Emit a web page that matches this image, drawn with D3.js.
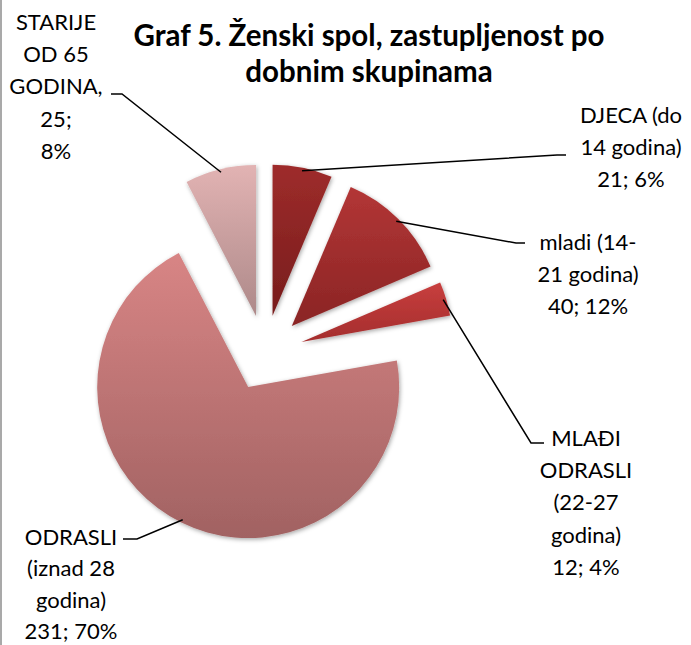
<!DOCTYPE html>
<html>
<head>
<meta charset="utf-8">
<script src="https://cdn.jsdelivr.net/npm/d3@7/dist/d3.min.js"></script>
<style>
  html, body { margin: 0; padding: 0; background: #fff; }
  svg { display: block; }
</style>
</head>
<body>
<svg id="chart" width="691" height="645"></svg>
<script>
// ---- data ----
const categories = ["DJECA (do 14 godina)", "mladi (14-21 godina)", "MLAĐI ODRASLI (22-27 godina)", "ODRASLI (iznad 28 godina)", "STARIJE OD 65 GODINA,"];
const values = [21, 40, 12, 231, 25];
const percents = ["6%", "12%", "4%", "70%", "8%"];
const labelLines = [
  ["DJECA (do", "14 godina)", "21; 6%"],
  ["mladi (14-", "21 godina)", "40; 12%"],
  ["MLAĐI", "ODRASLI", "(22-27", "godina)", "12; 4%"],
  ["ODRASLI", "(iznad 28", "godina)", "231; 70%"],
  ["STARIJE", "OD 65", "GODINA,", "25;", "8%"]
];
const titleLines = ["Graf 5. Ženski spol, zastupljenost po", "dobnim skupinama"];

// ---- styles / layout ----
const colorsTop = ["#9e2c2b", "#b33636", "#c83f3e", "#d88585", "#e2b3b3"];
const colorsBottom = ["#771c1c", "#8a2424", "#a42d2d", "#a16262", "#ad8989"];
// label layout: center x, first baseline y, line spacing, elbow point, horizontal end
const labelLayout = [
  {x: 631, y: 123, lh: 32.2, elbow: [557, 155], hend: [566, 155]},
  {x: 588, y: 250, lh: 32.2, elbow: [516, 243], hend: [525, 243]},
  {x: 586, y: 446, lh: 32.2, elbow: [531, 443], hend: [544, 443]},
  {x: 71,  y: 545, lh: 31.4, elbow: [137, 539], hend: [123, 539]},
  {x: 56,  y: 30,  lh: 32.2, elbow: [122, 94],  hend: [111, 94]}
];

const W = 691, H = 645;
const cx = 265, cy = 353, R = 151, explode = 38;

const svg = d3.select("#chart");
const defs = svg.append("defs");

const shadow = defs.append("filter").attr("id", "shadow")
  .attr("x", "-20%").attr("y", "-20%").attr("width", "140%").attr("height", "140%");
shadow.append("feDropShadow").attr("dx", 1).attr("dy", 1.5)
  .attr("stdDeviation", 2).attr("flood-color", "#000").attr("flood-opacity", 0.35);

values.forEach((v, i) => {
  const g = defs.append("linearGradient").attr("id", "grad" + i)
    .attr("x1", 0).attr("y1", 0).attr("x2", 0).attr("y2", 1);
  g.append("stop").attr("offset", "0%").attr("stop-color", colorsTop[i]);
  g.append("stop").attr("offset", "100%").attr("stop-color", colorsBottom[i]);
});

// left border line
svg.append("line").attr("x1", 1).attr("x2", 1).attr("y1", 0).attr("y2", H)
  .attr("stroke", "#8c8c8c").attr("stroke-width", 1.5);

const pie = d3.pie().sort(null).value(d => d).startAngle(0).endAngle(2 * Math.PI);
const arcs = pie(values);
const arc = d3.arc().innerRadius(0).outerRadius(R);

const slices = svg.append("g").attr("transform", `translate(${cx},${cy})`);
arcs.forEach((a, i) => {
  const mid = (a.startAngle + a.endAngle) / 2;
  const dx = explode * Math.sin(mid), dy = -explode * Math.cos(mid);
  slices.append("path")
    .attr("d", arc(a))
    .attr("transform", `translate(${dx},${dy})`)
    .attr("fill", `url(#grad${i})`)
    .attr("filter", "url(#shadow)");
});

// leader lines
arcs.forEach((a, i) => {
  const mid = (a.startAngle + a.endAngle) / 2;
  const ox = cx + explode * Math.sin(mid), oy = cy - explode * Math.cos(mid);
  const sx = ox + (R - 3) * Math.sin(mid), sy = oy - (R - 3) * Math.cos(mid);
  const L = labelLayout[i];
  svg.append("path")
    .attr("d", d3.line()([[sx, sy], L.elbow, L.hend]))
    .attr("fill", "none").attr("stroke", "#000").attr("stroke-width", 1.5);
});

// labels
labelLines.forEach((lines, i) => {
  const L = labelLayout[i];
  const t = svg.append("text")
    .attr("text-anchor", "middle")
    .attr("font-family", "Lato, 'Open Sans', sans-serif")
    .attr("font-size", 22)
    .attr("fill", "#000");
  lines.forEach((s, j) => {
    t.append("tspan").attr("x", L.x).attr("y", L.y + j * L.lh).text(s);
  });
});

// title
const tt = svg.append("text").attr("text-anchor", "middle")
  .attr("font-family", "Lato, 'Open Sans', sans-serif")
  .attr("font-weight", "bold").attr("font-size", 29.5).attr("fill", "#000");
titleLines.forEach((s, j) => {
  tt.append("tspan").attr("x", 369).attr("y", 46 + j * 36).text(s);
});
</script>
</body>
</html>
